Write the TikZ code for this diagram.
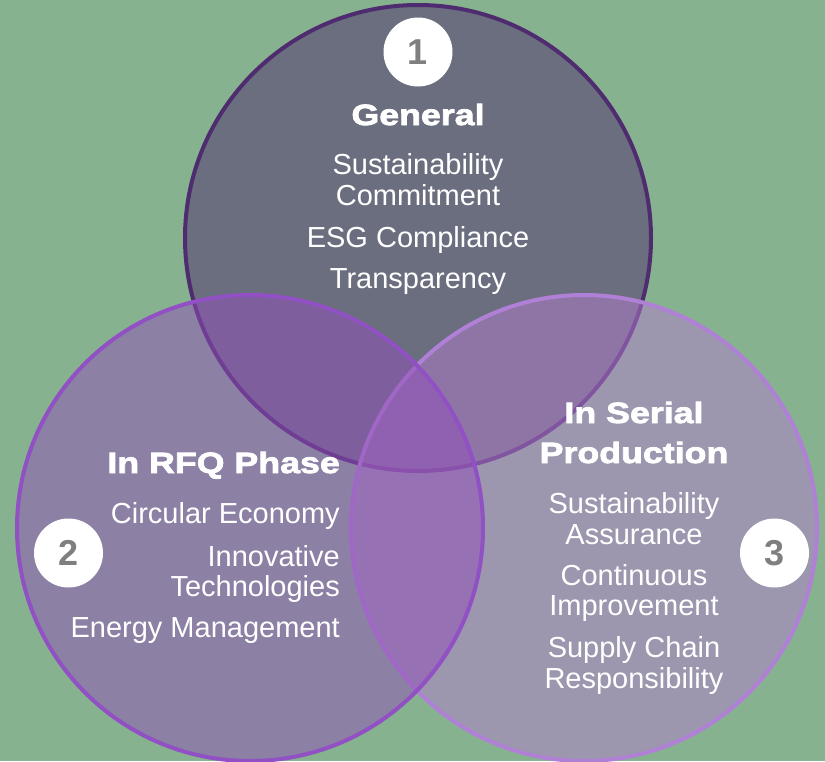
\documentclass[tikz,border=0pt]{standalone}
\usepackage{fontspec}
\setmainfont{Liberation Sans}
\newfontfamily\headfont{Liberation Sans}[FakeStretch=1.22,FakeBold=2.6]
\definecolor{bg}{HTML}{87B28F}
\definecolor{topfill}{HTML}{6B6E7E}
\definecolor{topline}{HTML}{4F2C70}
\definecolor{leftfill}{HTML}{924FBA}
\definecolor{leftline}{HTML}{9150C4}
\definecolor{rightfill}{HTML}{B27DCE}
\definecolor{rightline}{HTML}{B080D6}
\definecolor{numgray}{HTML}{7F7F7F}
\begin{document}
\begin{tikzpicture}[x=1pt,y=-1pt,
  venn/.style={circle, minimum size=466pt, inner sep=0pt, line width=4pt},
  numdot/.style={circle, fill=white, minimum size=69pt, inner sep=0pt,
    font=\fontsize{36}{36}\selectfont\bfseries, text=numgray},
  item/.style={font=\fontsize{29}{31}\selectfont, text=white, inner sep=0pt},
  head/.style={font=\headfont\bfseries\fontsize{29.3}{40}\selectfont, text=white, inner sep=0pt}]
\fill[bg] (0,0) rectangle (825,761);
\useasboundingbox (0,0) rectangle (825,761);
% circles
\node[venn, fill=topfill, draw=topline] (top) at (418,238) {};
\node[venn, fill=rightfill, fill opacity=0.5, draw=rightline] (right) at (584,528) {};
\node[venn, fill=leftfill, fill opacity=0.5, draw=leftline] (left) at (250,528) {};
% number badges
\node[numdot] (n1) at (418,52) {1};
\node[numdot] (n2) at (68.5,553) {2};
\node[numdot] (n3) at (774.5,553) {3};
% general
\node[head, anchor=base] (h1) at (418,125) {General};
\node[item, anchor=base] (g1) at (418,174) {Sustainability};
\node[item, anchor=base] (g2) at (418,205) {Commitment};
\node[item, anchor=base] (g3) at (418,247) {ESG Compliance};
\node[item, anchor=base] (g4) at (418,288) {Transparency};
% RFQ
\node[head, anchor=base east] (h2) at (340,473) {In RFQ Phase};
\node[item, anchor=base east] (l1) at (340,523) {Circular Economy};
\node[item, anchor=base east] (l2) at (340,566) {Innovative};
\node[item, anchor=base east] (l3) at (340,596) {Technologies};
\node[item, anchor=base east] (l4) at (340,637) {Energy Management};
% serial
\node[head, anchor=base] (h3a) at (634,423) {In Serial};
\node[head, anchor=base] (h3b) at (634,463) {Production};
\node[item, anchor=base] (r1) at (634,513) {Sustainability};
\node[item, anchor=base] (r2) at (634,544) {Assurance};
\node[item, anchor=base] (r3) at (634,585) {Continuous};
\node[item, anchor=base] (r4) at (634,615) {Improvement};
\node[item, anchor=base] (r5) at (634,657) {Supply Chain};
\node[item, anchor=base] (r6) at (634,688) {Responsibility};
\end{tikzpicture}
\end{document}
